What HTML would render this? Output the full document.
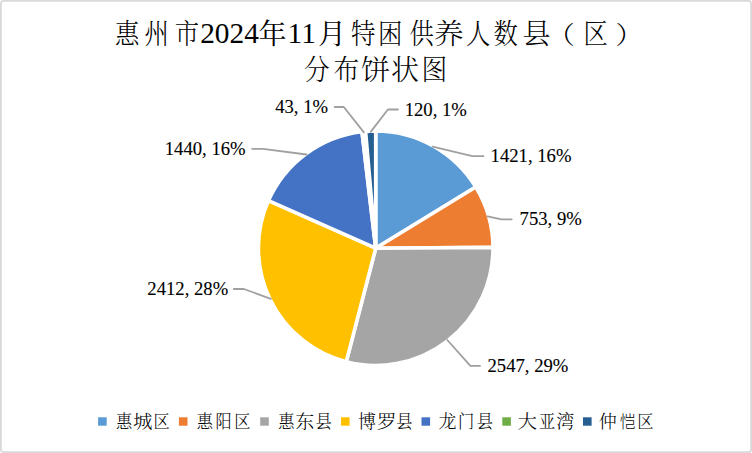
<!DOCTYPE html>
<html lang="zh-CN"><head><meta charset="utf-8"><title>惠州市2024年11月特困供养人数县（区）分布饼状图</title>
<style>
html,body{margin:0;padding:0;background:#fff;}
body{width:752px;height:453px;overflow:hidden;}
svg{display:block}
text{fill:#000}
.tc,.lc{font-family:"Noto Serif CJK SC","Liberation Serif",serif;font-weight:300}
.big{font-weight:400}
.sans{font-family:"Noto Sans CJK SC","Liberation Sans",sans-serif;font-weight:300}
.td{font-family:"Liberation Serif",serif;font-size:29.33px}
.lab text{font-family:"Liberation Serif","Noto Serif CJK SC",serif;font-size:18.67px;stroke:#000;stroke-width:0.12px}
.lead polyline{fill:none;stroke:#A0A0A0;stroke-width:1.8;stroke-linejoin:round;stroke-linecap:round}
.pie path{stroke:#fff;stroke-width:3.6;stroke-linejoin:round}
</style></head><body>
<svg width="752" height="453" viewBox="0 0 752 453">
<rect x="0" y="0" width="752" height="453" fill="#fff"/>
<rect x="0.9" y="0.9" width="750.2" height="451.2" rx="2.5" ry="2.5" fill="#fff" stroke="#D9D9D9" stroke-width="1.8"/>
<g class="title">
<text class="tc"><tspan x="115.09" y="43.5" font-size="28" textLength="24.36" lengthAdjust="spacingAndGlyphs">惠</tspan><tspan x="144.42" y="43.5" font-size="28" textLength="24.36" lengthAdjust="spacingAndGlyphs">州</tspan><tspan x="174.76" y="43.5" font-size="28" textLength="24.36" lengthAdjust="spacingAndGlyphs">市</tspan><tspan class="td" x="200.20" y="42.7">2024</tspan><tspan class="big" x="258.43" y="43.5" font-size="28">年</tspan><tspan class="td" x="287.60" y="42.7">11</tspan><tspan class="big" x="318.00" y="43.5" font-size="28">月</tspan><tspan x="351.05" y="43.5" font-size="28" textLength="24.36" lengthAdjust="spacingAndGlyphs">特</tspan><tspan x="378.09" y="43.5" font-size="28" textLength="24.36" lengthAdjust="spacingAndGlyphs">困</tspan><tspan x="409.42" y="43.5" font-size="28" textLength="24.36" lengthAdjust="spacingAndGlyphs">供</tspan><tspan x="434.09" y="43.5" font-size="28" textLength="29.68" lengthAdjust="spacingAndGlyphs">养</tspan><tspan x="466.09" y="43.5" font-size="28" textLength="24.36" lengthAdjust="spacingAndGlyphs">人</tspan><tspan x="493.42" y="43.5" font-size="28" textLength="24.36" lengthAdjust="spacingAndGlyphs">数</tspan><tspan x="522.43" y="43.5" font-size="28">县</tspan><tspan x="547.21" y="43.5" font-size="25" textLength="27.50" lengthAdjust="spacingAndGlyphs">（</tspan><tspan x="583.42" y="43.5" font-size="28" textLength="24.36" lengthAdjust="spacingAndGlyphs">区</tspan><tspan x="615.58" y="43.5" font-size="25" textLength="27.50" lengthAdjust="spacingAndGlyphs">）</tspan></text>
<text class="tc"><tspan x="304.06" y="80.4" font-size="28.6" textLength="25.74" lengthAdjust="spacingAndGlyphs">分</tspan><tspan x="333.40" y="80.4" font-size="28.6" textLength="25.74" lengthAdjust="spacingAndGlyphs">布</tspan><tspan x="361.01" y="80.4" font-size="28.6" textLength="29.17" lengthAdjust="spacingAndGlyphs">饼</tspan><tspan x="390.92" y="80.4" font-size="28.6" textLength="28.03" lengthAdjust="spacingAndGlyphs">状</tspan><tspan x="421.40" y="80.4" font-size="28.6" textLength="25.74" lengthAdjust="spacingAndGlyphs">图</tspan></text>
</g>
<g class="pie">
<path d="M375.7 248.2L375.70 130.90A117.3 117.3 0 0 1 475.78 187.01Z" fill="#5B9BD5"/>
<path d="M375.7 248.2L475.78 187.01A117.3 117.3 0 0 1 493.00 247.36Z" fill="#ED7D31"/>
<path d="M375.7 248.2L493.00 247.36A117.3 117.3 0 0 1 346.24 361.74Z" fill="#A5A5A5"/>
<path d="M375.7 248.2L346.24 361.74A117.3 117.3 0 0 1 268.49 200.60Z" fill="#FFC000"/>
<path d="M375.7 248.2L268.49 200.60A117.3 117.3 0 0 1 361.98 131.71Z" fill="#4472C4"/>
<path d="M375.7 248.2L361.98 131.71A117.3 117.3 0 0 1 365.59 131.34Z" fill="#70AD47"/>
<path d="M375.7 248.2L365.59 131.34A117.3 117.3 0 0 1 375.70 130.90Z" fill="#255E91"/>
</g>
<g class="lead">
<polyline points="432.6,146.7 472.4,156.2 483.4,156.2"/>
<polyline points="487.6,216.3 501.5,219.3 511.7,219.3"/>
<polyline points="447.3,340.0 470.4,365.9 480,365.9"/>
<polyline points="270.9,298.8 243.8,289.0 233.8,289.0"/>
<polyline points="306.6,154.5 262.9,148.9 252.2,148.9"/>
<polyline points="363.9,132.4 343.8,107.0 334.7,107.0"/>
<polyline points="370.7,131.9 387.9,109.5 398,109.5"/>
</g>
<g class="lab">
<text x="490.6" y="162.0" text-anchor="start">1421, 16%</text>
<text x="519.6" y="225.2" text-anchor="start">753, 9%</text>
<text x="487.5" y="372.1" text-anchor="start">2547, 29%</text>
<text x="228.2" y="295.0" text-anchor="end">2412, 28%</text>
<text x="245.6" y="155.3" text-anchor="end">1440, 16%</text>
<text x="328.0" y="112.8" text-anchor="end">43, 1%</text>
<text x="404.7" y="116.0" text-anchor="start">120, 1%</text>
</g>
<g class="leg">
<rect x="98.1" y="417.3" width="8.6" height="8.4" fill="#5B9BD5"/>
<text class="lc"><tspan x="116.03" y="428.3" font-size="18" textLength="16.20" lengthAdjust="spacingAndGlyphs">惠</tspan><tspan x="133.09" y="428.3" font-size="18" textLength="19.44" lengthAdjust="spacingAndGlyphs">城</tspan><tspan x="153.38" y="428.3" font-size="18" textLength="16.20" lengthAdjust="spacingAndGlyphs">区</tspan></text>
<rect x="178.9" y="417.3" width="8.6" height="8.4" fill="#ED7D31"/>
<text class="lc"><tspan x="196.84" y="428.3" font-size="18" textLength="16.20" lengthAdjust="spacingAndGlyphs">惠</tspan><tspan x="215.50" y="428.3" font-size="18" textLength="16.20" lengthAdjust="spacingAndGlyphs">阳</tspan><tspan x="234.18" y="428.3" font-size="18" textLength="16.20" lengthAdjust="spacingAndGlyphs">区</tspan></text>
<rect x="260.2" y="417.3" width="8.6" height="8.4" fill="#A5A5A5"/>
<text class="lc"><tspan x="278.13" y="428.3" font-size="18" textLength="16.20" lengthAdjust="spacingAndGlyphs">惠</tspan><tspan x="295.36" y="428.3" font-size="18" textLength="19.08" lengthAdjust="spacingAndGlyphs">东</tspan><tspan x="315.47" y="428.3" font-size="18" textLength="16.20" lengthAdjust="spacingAndGlyphs">县</tspan></text>
<rect x="341.0" y="417.3" width="8.6" height="8.4" fill="#FFC000"/>
<text class="lc"><tspan x="358.03" y="428.3" font-size="18">博</tspan><tspan x="376.81" y="428.3" font-size="18" textLength="19.80" lengthAdjust="spacingAndGlyphs">罗</tspan><tspan x="396.27" y="428.3" font-size="18" textLength="16.20" lengthAdjust="spacingAndGlyphs">县</tspan></text>
<rect x="421.5" y="417.3" width="8.6" height="8.4" fill="#4472C4"/>
<text class="lc"><tspan x="438.53" y="428.3" font-size="18">龙</tspan><tspan x="458.10" y="428.3" font-size="18" textLength="16.20" lengthAdjust="spacingAndGlyphs">门</tspan><tspan x="476.77" y="428.3" font-size="18" textLength="16.20" lengthAdjust="spacingAndGlyphs">县</tspan></text>
<rect x="502.3" y="417.3" width="8.6" height="8.4" fill="#70AD47"/>
<text class="lc"><tspan x="517.62" y="428.3" font-size="18" textLength="19.44" lengthAdjust="spacingAndGlyphs">大</tspan><tspan x="538.90" y="428.3" font-size="18" textLength="16.20" lengthAdjust="spacingAndGlyphs">亚</tspan><tspan x="556.17" y="428.3" font-size="18">湾</tspan></text>
<rect x="583.0" y="417.3" width="8.6" height="8.4" fill="#255E91"/>
<text class="lc"><tspan x="598.74" y="428.3" font-size="18">仲</tspan><tspan class="sans" x="619.83" y="428.3" font-size="17.5" textLength="15.75" lengthAdjust="spacingAndGlyphs">恺</tspan><tspan x="637.27" y="428.3" font-size="18" textLength="16.20" lengthAdjust="spacingAndGlyphs">区</tspan></text>
</g>
</svg>
</body></html>
